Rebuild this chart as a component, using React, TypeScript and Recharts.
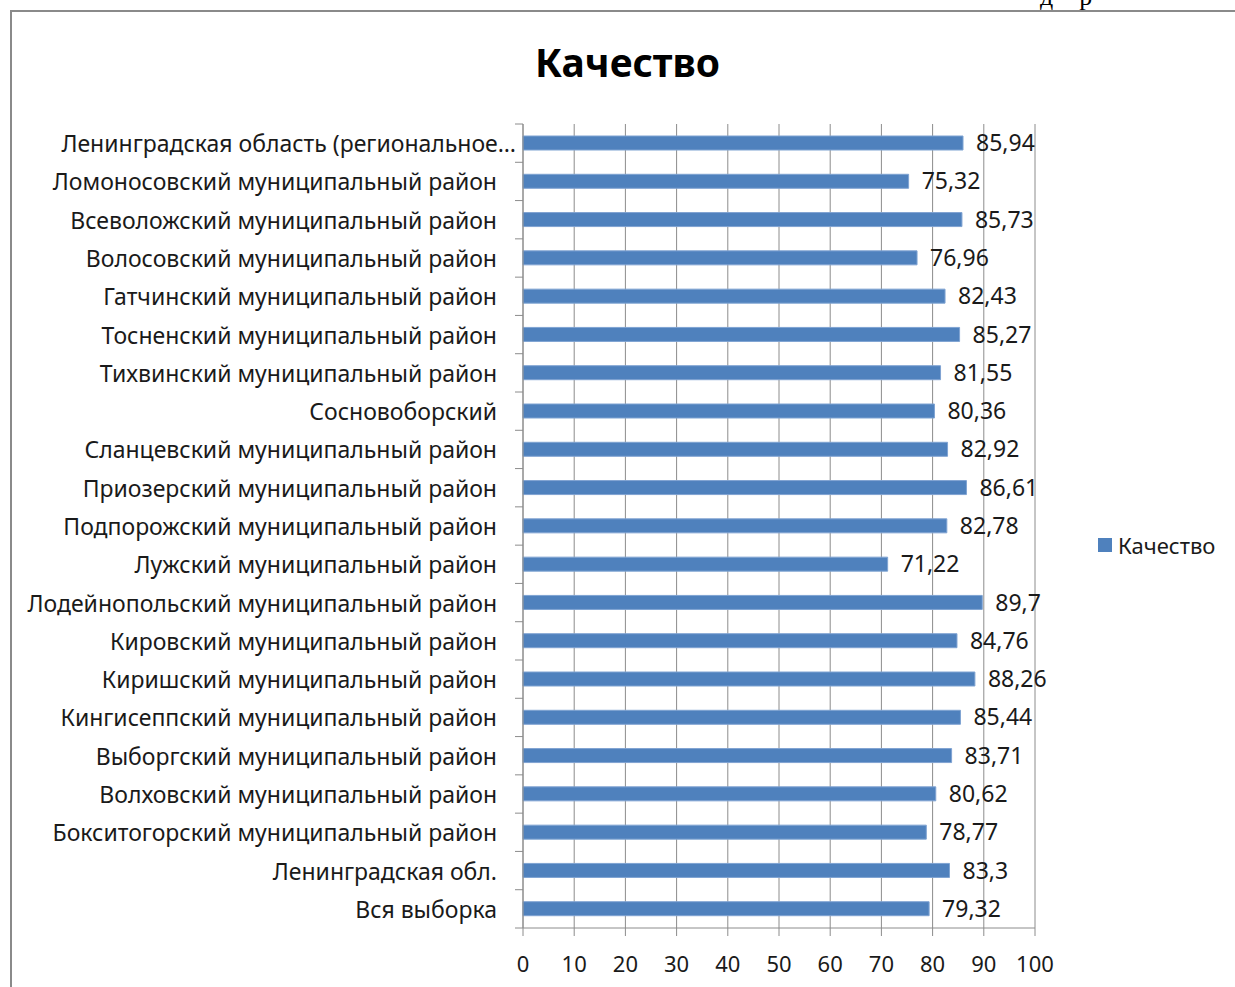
import React from 'react';
import { BarChart, Bar, XAxis, YAxis, CartesianGrid, LabelList } from 'recharts';

const categories: string[] = [
  'Ленинградская область (региональное…',
  'Ломоносовский муниципальный район',
  'Всеволожский муниципальный район',
  'Волосовский муниципальный район',
  'Гатчинский муниципальный район',
  'Тосненский муниципальный район',
  'Тихвинский муниципальный район',
  'Сосновоборский',
  'Сланцевский муниципальный район',
  'Приозерский муниципальный район',
  'Подпорожский муниципальный район',
  'Лужский муниципальный район',
  'Лодейнопольский муниципальный район',
  'Кировский муниципальный район',
  'Киришский муниципальный район',
  'Кингисеппский муниципальный район',
  'Выборгский муниципальный район',
  'Волховский муниципальный район',
  'Бокситогорский муниципальный район',
  'Ленинградская обл.',
  'Вся выборка',
];

const values: number[] = [
  85.94, 75.32, 85.73, 76.96, 82.43, 85.27, 81.55, 80.36, 82.92, 86.61, 82.78,
  71.22, 89.7, 84.76, 88.26, 85.44, 83.71, 80.62, 78.77, 83.3, 79.32,
];

const xTicks: number[] = [0, 10, 20, 30, 40, 50, 60, 70, 80, 90, 100];

const seriesName = 'Качество';
const chartTitle = 'Качество';

const data = categories.map((name, i) => ({ name, value: values[i] }));

const W = 1235;
const H = 987;
const PLOT_LEFT = 523;
const PLOT_RIGHT = 1035;
const PLOT_TOP = 124;
const PLOT_BOTTOM = 928;
const BAND = (PLOT_BOTTOM - PLOT_TOP) / categories.length;
const FONT = "'Noto Sans', 'Open Sans', sans-serif";
const GRID = '#8c8c8c';

const CatTick = (props: any) => {
  const { y, payload, index } = props;
  const labelRight = index === 0 ? PLOT_LEFT - 7 : PLOT_LEFT - 26;
  return (
    <g>
      <text
        x={labelRight}
        y={y}
        textAnchor="end"
        dominantBaseline="central"
        fontFamily={FONT}
        fontSize={23}
        fill="#1a1a1a"
      >
        {payload.value}
      </text>
      <line x1={PLOT_LEFT - 8} x2={PLOT_LEFT} y1={y + BAND / 2} y2={y + BAND / 2} stroke={GRID} strokeWidth={1} />
      {index === 0 ? (
        <line x1={PLOT_LEFT - 8} x2={PLOT_LEFT} y1={y - BAND / 2} y2={y - BAND / 2} stroke={GRID} strokeWidth={1} />
      ) : null}
    </g>
  );
};

export default function App() {
  return (
    <div
      style={{
        position: 'fixed',
        left: 0,
        top: 0,
        width: W,
        height: H,
        overflow: 'hidden',
        background: '#fff',
      }}
    >
      <div
        style={{
          position: 'absolute',
          left: 1040,
          top: -18,
          fontFamily: "'Liberation Serif', serif",
          fontSize: 26,
          color: '#000',
          whiteSpace: 'pre',
        }}
      >
        {'д    р'}
      </div>
      <div
        style={{
          position: 'absolute',
          left: 10,
          top: 10,
          width: 1400,
          height: 1200,
          border: '2px solid #8a8a8a',
          boxSizing: 'border-box',
        }}
      />
      <div
        style={{
          position: 'absolute',
          left: 0,
          top: 35,
          width: 1255,
          textAlign: 'center',
          fontFamily: FONT,
          fontWeight: 700,
          fontSize: 39,
          color: '#000',
        }}
      >
        {chartTitle}
      </div>
      <div
        style={{
          position: 'absolute',
          left: 1098,
          top: 530,
          display: 'flex',
          alignItems: 'center',
          fontFamily: FONT,
          fontSize: 22,
          color: '#1a1a1a',
        }}
      >
        <span style={{ display: 'inline-block', width: 14, height: 14, background: '#4F81BD', marginRight: 6 }} />
        {seriesName}
      </div>
      <div style={{ position: 'absolute', left: 0, top: 0 }}>
        <BarChart
          width={W}
          height={H}
          data={data}
          layout="vertical"
          margin={{ top: PLOT_TOP, right: W - PLOT_RIGHT, bottom: 0, left: 0 }}
        >
          <CartesianGrid horizontal={false} vertical={true} stroke={GRID} strokeWidth={1} />
          <XAxis
            type="number"
            domain={[0, 100]}
            ticks={xTicks}
            interval={0}
            height={H - PLOT_BOTTOM}
            axisLine={{ stroke: GRID }}
            tickLine={{ stroke: GRID }}
            tickSize={8}
            tickMargin={20}
            tick={{ fontFamily: FONT, fontSize: 22, fill: '#1a1a1a' }}
          />
          <YAxis
            type="category"
            dataKey="name"
            width={PLOT_LEFT}
            interval={0}
            axisLine={{ stroke: GRID }}
            tickLine={false}
            tick={<CatTick />}
          />
          <Bar
            dataKey="value"
            name={seriesName}
            fill="#4F81BD"
            stroke="#7FA3D2"
            strokeWidth={1}
            barSize={14}
            isAnimationActive={false}
          >
            <LabelList
              dataKey="value"
              position="right"
              offset={13}
              formatter={(v: any) => String(v).replace('.', ',')}
              style={{ fontFamily: FONT, fontSize: 23, fill: '#1a1a1a' }}
            />
          </Bar>
        </BarChart>
      </div>
    </div>
  );
}
